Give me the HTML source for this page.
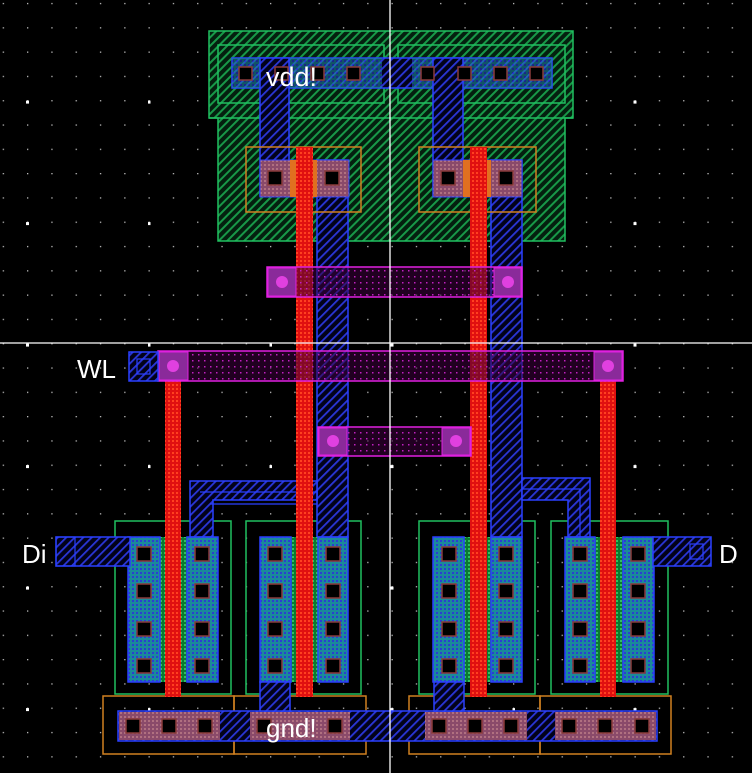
<!DOCTYPE html>
<html><head><meta charset="utf-8"><style>
html,body{margin:0;padding:0;background:#000;}
svg{display:block;}
text{font-family:"Liberation Sans",sans-serif;fill:#fff;}
</style></head><body>
<svg width="752" height="773" viewBox="0 0 752 773" xmlns="http://www.w3.org/2000/svg">
<defs>
<pattern id="dots" x="2.7" y="2.9" width="24.3" height="24.3" patternUnits="userSpaceOnUse"><rect width="1.3" height="1.3" fill="#bbb"/></pattern>
<pattern id="bdots" x="26" y="100.6" width="121.5" height="121.5" patternUnits="userSpaceOnUse"><rect x="0" y="0" width="3" height="3" fill="#fff"/></pattern>
<pattern id="gh" width="6" height="6" patternUnits="userSpaceOnUse" patternTransform="rotate(45)"><rect width="6" height="6" fill="#04200f"/><rect width="2" height="6" fill="#189848"/></pattern>
<pattern id="bh" width="6" height="6" patternUnits="userSpaceOnUse" patternTransform="rotate(45)"><rect width="6" height="6" fill="#02021a"/><rect width="1.8" height="6" fill="#2a36d8"/></pattern>
<pattern id="teal" width="4" height="4" patternUnits="userSpaceOnUse"><rect width="4" height="4" fill="#1a8a9a"/><rect width="2" height="2" fill="#2a40d0"/></pattern>
<pattern id="pk" width="4" height="4" patternUnits="userSpaceOnUse"><rect width="4" height="4" fill="#8a4a6a"/><rect width="2" height="2" fill="#b07080"/></pattern>
<pattern id="red" width="4" height="4" patternUnits="userSpaceOnUse"><rect width="4" height="4" fill="#e01010"/><rect width="2" height="2" fill="#ff4020"/></pattern>
<pattern id="mg" width="6" height="6" patternUnits="userSpaceOnUse"><rect width="6" height="6" fill="rgba(60,0,60,0.55)"/><rect width="1.5" height="1.5" fill="#c020c0"/></pattern>
<pattern id="gs" width="4" height="4" patternUnits="userSpaceOnUse"><rect width="4" height="4" fill="#0a7a30"/><rect width="2" height="2" fill="#30c060"/></pattern>
</defs>
<rect width="752" height="773" fill="#000"/>
<rect width="752" height="773" fill="url(#dots)"/>
<rect width="752" height="773" fill="url(#bdots)"/>

<!-- nwell -->
<path d="M209 31H573V118H565V241H218V118H209Z" fill="url(#gh)" stroke="#20c060" stroke-width="1.5"/>
<line x1="209" y1="118" x2="573" y2="118" stroke="#20c060" stroke-width="1.5"/>
<rect x="218" y="45" width="166" height="58" fill="none" stroke="#20c060" stroke-width="1.5"/>
<rect x="398" y="45" width="167" height="58" fill="none" stroke="#20c060" stroke-width="1.5"/>

<!-- vdd metal -->
<rect x="232" y="58" width="320" height="30" fill="url(#bh)" stroke="#2a40ff" stroke-width="1.5"/>
<rect x="232" y="58" width="150" height="30" fill="url(#teal)" opacity="0.6"/>
<rect x="412" y="58" width="140" height="30" fill="url(#teal)" opacity="0.6"/>
<rect x="260" y="58" width="29" height="138" fill="url(#bh)" stroke="#2a40ff" stroke-width="1.5"/>
<rect x="433" y="58" width="30" height="138" fill="url(#bh)" stroke="#2a40ff" stroke-width="1.5"/>

<!-- NMOS -->
<g stroke="#20c060" stroke-width="1.5" fill="none">
<rect x="115" y="521" width="116" height="173"/><rect x="246" y="521" width="115" height="173"/>
<rect x="419" y="521" width="116" height="173"/><rect x="551" y="521" width="117" height="173"/>
</g>

<!-- blue vertical metal, L shapes -->
<rect x="317" y="160" width="31" height="377" fill="url(#bh)" stroke="#2a40ff" stroke-width="1.5"/>
<rect x="491" y="160" width="31" height="377" fill="url(#bh)" stroke="#2a40ff" stroke-width="1.5"/>
<path d="M190 481H317V500H213V537H190Z" fill="url(#bh)" stroke="#2a40ff" stroke-width="1.5"/>
<path d="M200 492H317V504H210" fill="none" stroke="#2a40ff" stroke-width="1.2"/>
<path d="M522 478H590V537H568V500H522Z" fill="url(#bh)" stroke="#2a40ff" stroke-width="1.5"/>
<path d="M522 489H580V537" fill="none" stroke="#2a40ff" stroke-width="1.2"/>

<!-- PMOS -->
<g>
<rect x="246" y="147" width="115" height="65" fill="none" stroke="#d08020" stroke-width="1.5"/>
<rect x="419" y="147" width="117" height="65" fill="none" stroke="#d08020" stroke-width="1.5"/>
<rect x="260" y="160" width="89" height="37" fill="url(#pk)" stroke="#3040ff"/>
<rect x="433" y="160" width="89" height="37" fill="url(#pk)" stroke="#3040ff"/>
<rect x="290" y="160" width="27" height="37" fill="#e07020"/>
<rect x="463" y="160" width="28" height="37" fill="#e07020"/>
</g>

<g>
<rect x="128" y="537" width="90" height="145" fill="url(#gs)"/>
<rect x="128" y="537" width="32" height="145" fill="url(#teal)" stroke="#2a40ff" stroke-width="1.5"/>
<rect x="187" y="537" width="31" height="145" fill="url(#teal)" stroke="#2a40ff" stroke-width="1.5"/>
<rect x="260" y="537" width="88" height="145" fill="url(#gs)"/>
<rect x="260" y="537" width="31" height="145" fill="url(#teal)" stroke="#2a40ff" stroke-width="1.5"/>
<rect x="318" y="537" width="30" height="145" fill="url(#teal)" stroke="#2a40ff" stroke-width="1.5"/>
<rect x="433" y="537" width="89" height="145" fill="url(#gs)"/>
<rect x="433" y="537" width="31" height="145" fill="url(#teal)" stroke="#2a40ff" stroke-width="1.5"/>
<rect x="491" y="537" width="31" height="145" fill="url(#teal)" stroke="#2a40ff" stroke-width="1.5"/>
<rect x="565" y="537" width="89" height="145" fill="url(#gs)"/>
<rect x="565" y="537" width="30" height="145" fill="url(#teal)" stroke="#2a40ff" stroke-width="1.5"/>
<rect x="623" y="537" width="31" height="145" fill="url(#teal)" stroke="#2a40ff" stroke-width="1.5"/>
</g>

<g fill="#000" stroke="#8a3a3a" stroke-width="1.5">
<rect x="239" y="67" width="13" height="13"/><rect x="275" y="67" width="13" height="13"/><rect x="311" y="67" width="13" height="13"/><rect x="347" y="67" width="13" height="13"/>
<rect x="421" y="67" width="13" height="13"/><rect x="458" y="67" width="13" height="13"/><rect x="494" y="67" width="13" height="13"/><rect x="530" y="67" width="13" height="13"/>
<rect x="268" y="171" width="14" height="14"/><rect x="325" y="171" width="14" height="14"/>
<rect x="441" y="171" width="14" height="14"/><rect x="499" y="171" width="14" height="14"/>
<g id="col"><rect x="137" y="547" width="14" height="14"/><rect x="137" y="584" width="14" height="14"/><rect x="137" y="622" width="14" height="14"/><rect x="137" y="659" width="14" height="14"/></g>
<use href="#col" x="58"/><use href="#col" x="131"/><use href="#col" x="189"/>
<use href="#col" x="305"/><use href="#col" x="362"/><use href="#col" x="436"/><use href="#col" x="494"/>
</g>
<text x="266" y="86" font-size="27">vdd!</text>

<!-- gnd -->
<g fill="none" stroke="#d08020" stroke-width="1.5">
<rect x="103" y="696" width="131" height="58"/><rect x="234" y="696" width="132" height="58"/>
<rect x="409" y="696" width="131" height="58"/><rect x="540" y="696" width="131" height="58"/>
</g>
<rect x="118" y="711" width="539" height="30" fill="url(#bh)" stroke="#2a40ff" stroke-width="1.5"/>
<g fill="url(#pk)"><rect x="119" y="712" width="101" height="28"/><rect x="250" y="712" width="100" height="28"/><rect x="425" y="712" width="102" height="28"/><rect x="555" y="712" width="101" height="28"/></g>
<rect x="260" y="682" width="30" height="29" fill="url(#bh)" stroke="#2a40ff" stroke-width="1.5"/>
<rect x="434" y="682" width="30" height="29" fill="url(#bh)" stroke="#2a40ff" stroke-width="1.5"/>
<g fill="#000" stroke="#8a3a3a" stroke-width="1.5">
<rect x="126" y="719" width="14" height="14"/><rect x="162" y="719" width="14" height="14"/><rect x="198" y="719" width="14" height="14"/>
<rect x="257" y="719" width="14" height="14"/><rect x="328" y="719" width="14" height="14"/>
<rect x="432" y="719" width="14" height="14"/><rect x="468" y="719" width="14" height="14"/><rect x="504" y="719" width="14" height="14"/>
<rect x="562" y="719" width="14" height="14"/><rect x="598" y="719" width="14" height="14"/><rect x="635" y="719" width="14" height="14"/>
</g>
<text x="266" y="737" font-size="26">gnd!</text>

<!-- Di / D -->
<rect x="56" y="537" width="74" height="29" fill="url(#bh)" stroke="#2a40ff" stroke-width="1.5"/>
<rect x="56" y="537" width="19" height="29" fill="none" stroke="#2a40ff" stroke-width="1.2"/>
<text x="22" y="563" font-size="26">Di</text>
<rect x="653" y="537" width="58" height="29" fill="url(#bh)" stroke="#2a40ff" stroke-width="1.5"/>
<rect x="690" y="544" width="13" height="15" fill="none" stroke="#2a40ff" stroke-width="1.2"/>
<text x="719" y="563" font-size="26">D</text>

<!-- poly -->
<rect x="296" y="147" width="17" height="550" fill="url(#red)"/>
<rect x="470" y="147" width="17" height="550" fill="url(#red)"/>
<rect x="165" y="366" width="16" height="331" fill="url(#red)"/>
<rect x="600" y="366" width="16" height="331" fill="url(#red)"/>

<!-- metal2 -->
<rect x="267" y="267" width="255" height="30" fill="url(#mg)" stroke="#e020e0" stroke-width="1.5"/>
<rect x="268" y="268" width="28" height="28" fill="#8a2a9a" stroke="#e020e0"/><rect x="494" y="268" width="27" height="28" fill="#8a2a9a" stroke="#e020e0"/>
<rect x="158" y="351" width="465" height="30" fill="url(#mg)" stroke="#e020e0" stroke-width="1.5"/>
<rect x="159" y="352" width="29" height="28" fill="#8a2a9a" stroke="#e020e0"/><rect x="594" y="352" width="28" height="28" fill="#8a2a9a" stroke="#e020e0"/>
<rect x="318" y="427" width="153" height="29" fill="url(#mg)" stroke="#e020e0" stroke-width="1.5"/>
<rect x="319" y="428" width="28" height="27" fill="#8a2a9a" stroke="#e020e0"/><rect x="442" y="428" width="28" height="27" fill="#8a2a9a" stroke="#e020e0"/>
<g fill="#e040e0"><circle cx="282" cy="282" r="6"/><circle cx="508" cy="282" r="6"/><circle cx="173" cy="366" r="6"/><circle cx="608" cy="366" r="6"/><circle cx="333" cy="441" r="6"/><circle cx="456" cy="441" r="6"/></g>

<!-- WL -->
<rect x="129" y="352" width="29" height="29" fill="url(#bh)" stroke="#2a40ff" stroke-width="1.5"/>
<rect x="137" y="359" width="13" height="15" fill="none" stroke="#2a40ff" stroke-width="1.2"/>
<text x="77" y="378" font-size="26">WL</text>

<!-- crosshair -->
<line x1="0" y1="343" x2="752" y2="343" stroke="#fff" stroke-width="1.3"/>
<line x1="390" y1="0" x2="390" y2="773" stroke="#fff" stroke-width="1.3"/>
</svg>
</body></html>
